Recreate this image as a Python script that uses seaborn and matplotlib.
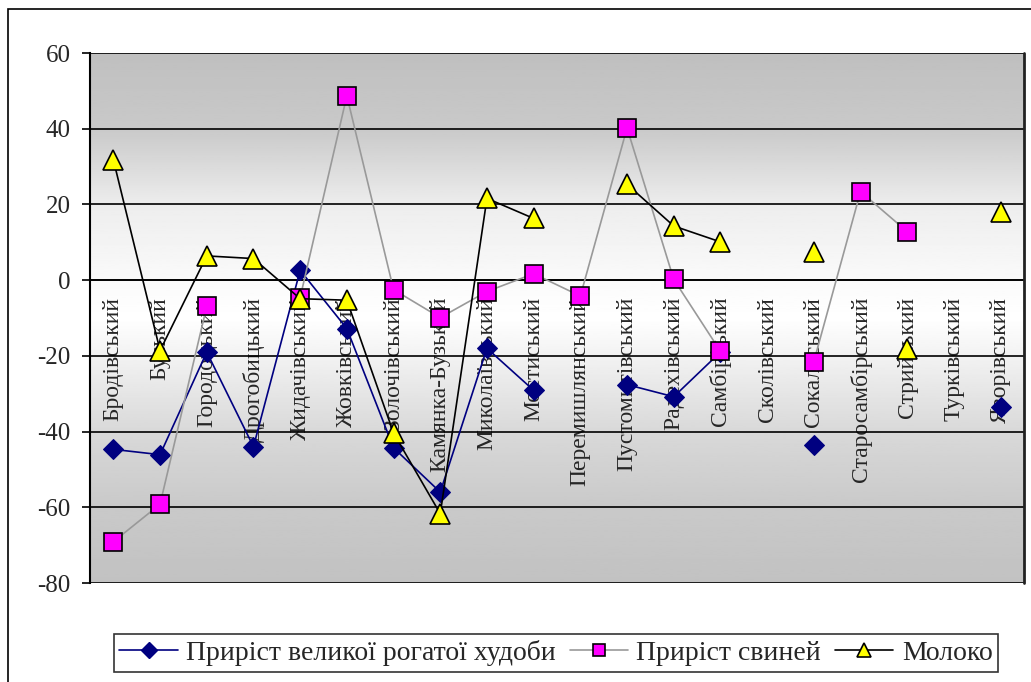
import matplotlib
matplotlib.use('Agg')
import matplotlib.pyplot as plt
import matplotlib.patches as patches
from matplotlib.lines import Line2D
import seaborn as sns
import pandas as pd
import numpy as np

nan = np.nan

# Райони
districts = ['Бродівський', 'Буський', 'Городоцький', 'Дрогобицький', 'Жидачівський',
             'Жовківський', 'Золочівський', 'Камянка-Бузький', 'Миколаївський', 'Мостиський',
             'Перемишлянський', 'Пустомитівський', 'Радехівський', 'Самбірський', 'Сколівський',
             'Сокальський', 'Старосамбірський', 'Стрийський', 'Турківський', 'Яворівський']

# Значення рядів
cattle = [-44.7, -46.1, -19.0, -44.0, 2.6, -12.8, -44.3, -56.0, -18.0, -29.1,
          nan, -27.6, -30.8, -19.0, nan, -43.6, nan, nan, nan, -33.4]
pigs = [-69.1, -59.2, -6.9, nan, -4.6, 48.7, -2.5, -9.9, -3.0, 1.7,
        -4.2, 40.2, 0.2, -18.8, nan, -21.5, 23.4, 12.8, nan, nan]
milk = [31.8, -18.6, 6.4, 5.7, -4.9, -5.3, -40.4, -61.7, 21.6, 16.3,
        nan, 25.3, 14.3, 10.1, nan, 7.4, nan, -18.3, nan, 18.0]

series_names = ['Приріст великої рогатої худоби', 'Приріст свиней', 'Молоко']
y_ticks = [-80, -60, -40, -20, 0, 20, 40, 60]

sns.set_style('white')
plt.rcParams['font.family'] = ['Liberation Serif', 'DejaVu Serif']
plt.rcParams['axes.unicode_minus'] = False


def to_long(values):
    # розбиваємо ряд на суцільні відрізки, щоб пропуски не з'єднувались
    rows = []
    seg = 0
    prev_nan = True
    for i, v in enumerate(values):
        if np.isnan(v):
            prev_nan = True
            continue
        if prev_nan:
            seg += 1
        prev_nan = False
        rows.append({'x': i, 'value': v, 'seg': seg})
    return pd.DataFrame(rows)


fig = plt.figure(figsize=(10.31, 6.82), dpi=100)
ax = fig.add_axes([90 / 1031, 1 - 583 / 682, 934 / 1031, 530 / 682])

# градієнтний фон області побудови
yy = np.linspace(-80, 60, 300)
shade = np.interp(yy, [-80, -60, -40, -20, -10, 0, 20, 40, 60],
                  [0.76, 0.79, 0.85, 0.95, 1.0, 0.98, 0.93, 0.79, 0.75])
ax.imshow(shade[:, None], extent=[-0.5, 19.5, -80, 60], origin='lower',
          cmap='gray', vmin=0, vmax=1, aspect='auto', zorder=0)

styles = [
    dict(color='#000080', marker='D', markersize=10.5, markerfacecolor='#000080',
         markeredgecolor='#000080', linewidth=1.2),
    dict(color='#999999', marker='s', markersize=12.5, markerfacecolor='#FF00FF',
         markeredgecolor='black', markeredgewidth=1.2, linewidth=1.2),
    dict(color='black', marker='^', markersize=14, markerfacecolor='#FFFF00',
         markeredgecolor='black', markeredgewidth=1.2, linewidth=1.2),
]

for values, st in zip([cattle, pigs, milk], styles):
    d = to_long(values)
    sns.lineplot(data=d, x='x', y='value', units='seg', estimator=None, sort=False,
                 ax=ax, legend=False, zorder=3, **st)

ax.set_xlim(-0.5, 19.5)
ax.set_ylim(-80, 60)
ax.set_yticks(y_ticks)
ax.set_yticklabels([str(t) for t in y_ticks])
ax.grid(axis='y', color='black', linewidth=1.2, zorder=1)
ax.set_axisbelow(False)
ax.set_xlabel('')
ax.set_ylabel('')

for s in ['top', 'right']:
    ax.spines[s].set_visible(False)
ax.spines['left'].set_linewidth(1.5)
ax.spines['left'].set_color('black')
ax.spines['bottom'].set_position(('data', 0))
ax.spines['bottom'].set_linewidth(1.2)
ax.spines['bottom'].set_color('black')
ax.plot([19.5, 19.5], [-80, 60], color='#222222', linewidth=2, clip_on=False, zorder=4)

ax.set_xticks(range(len(districts)))
ax.set_xticklabels(districts, rotation=90, fontsize=17)
ax.set_xticks(np.arange(0.5, 19.5, 1), minor=True)
ax.tick_params(axis='x', which='major', length=0, pad=12)
ax.tick_params(axis='x', which='minor', length=5, width=1.2, direction='out', color='black')
ax.tick_params(axis='y', length=6, width=1.2, direction='out', color='black',
               labelsize=18, pad=8, left=True)

# у легенді маркери менші
leg_styles = [dict(st) for st in styles]
leg_styles[0]['markersize'] = 8
leg_styles[1]['markersize'] = 8
leg_styles[2]['markersize'] = 10
handles = [Line2D([], [], **st) for st in leg_styles]
leg = fig.legend(handles, series_names, loc='center', bbox_to_anchor=(556 / 1031, 1 - 653 / 682),
                 ncol=3, frameon=True, fancybox=False, shadow=False, fontsize=20,
                 handlelength=2.1, handletextpad=0.3, columnspacing=0.5, borderpad=0.2)
leg.get_frame().set_edgecolor('black')
leg.get_frame().set_linewidth(1.2)

# рамка діаграми
fig.patches.append(patches.Rectangle((8 / 1031, -0.1), 1.2, 1.1 - 9 / 682,
                                     transform=fig.transFigure, fill=False,
                                     edgecolor='black', linewidth=1.2))

fig.savefig('out.png', dpi=100)
